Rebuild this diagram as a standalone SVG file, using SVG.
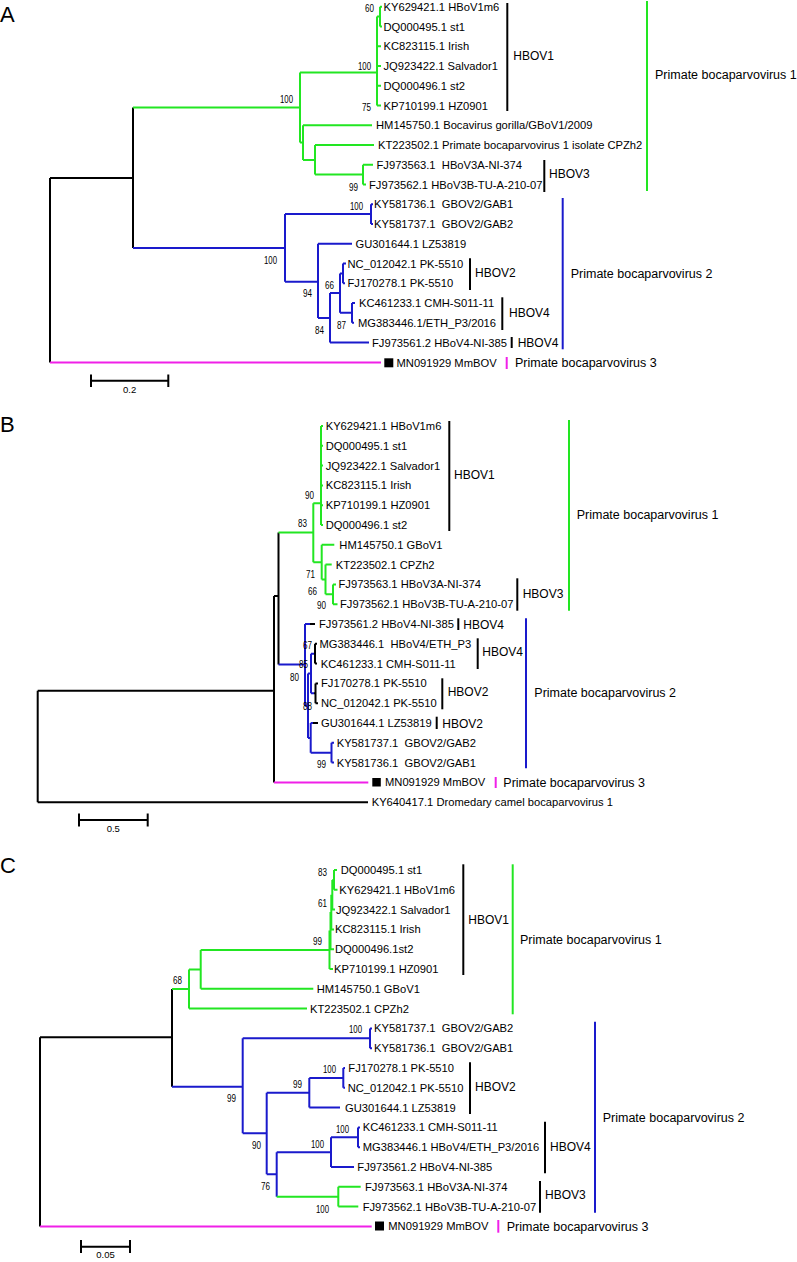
<svg xmlns="http://www.w3.org/2000/svg" width="797" height="1262" viewBox="0 0 797 1262">
<style>
text{font-family:"Liberation Sans",Arial,sans-serif;fill:#000}
.t{font-size:11.2px}
.bs{font-size:10px}
.cl{font-size:12px}
.gp{font-size:12.5px}
.sc{font-size:9.5px}
.pl{font-size:22px}
path{fill:none;stroke-width:2}
.k{stroke:#000}
.g{stroke:#22e622}
.b{stroke:#1a1acc}
.m{stroke:#f020e8}
</style>
<rect width="797" height="1262" fill="#fff"/>
<g id="panel-letters">
<text class="pl" x="0" y="22">A</text>
<text class="pl" x="0" y="432">B</text>
<text class="pl" x="0" y="873">C</text>
</g>
<g id="connectors">
<!-- Panel A -->
<path class="k" d="M50,178V362.5M50,178H133M133,107.5V248"/>
<path class="g" d="M133,107.5H300M300,72.4V142.6M300,72.4H377M377,16.6V105.5M377,16.6H380M380,6.7V26.5M380,6.7H382M380,26.5H382M377,46.2H381M377,66H381M377,85.7H381M377,105.5H381M300,142.6H303M303,125.2V160M303,125.2H372M303,160H315M315,145V174.6M315,145H374M315,174.6H363M363,164.7V184.5M363,164.7H373M363,184.5H366"/>
<path class="b" d="M133,248H285M285,214.1V281.7M285,214.1H371M371,204.2V224M371,204.2H373M371,224H373M285,281.7H318M318,243.7V318M318,243.7H352M318,318H330M330,293.1V342.5M330,342.5H369M330,293.1H340M340,273.4V312.8M340,273.4H343M343,263.5V283.2M343,263.5H346M343,283.2H345M340,312.8H352M352,303V322.7M352,303H355M352,322.7H354"/>
<path class="m" d="M50,362.5H381"/>
<!-- Panel B -->
<path class="k" d="M37.7,690.7V802.2M37.7,690.7H274M37.7,802.2H368M274,596V782.4M274,596H278.5M278.5,532.5V664.6"/>
<path class="g" d="M278.5,532.5H313.3M313.3,503.3V562.2M313.3,503.3H321M321,426V525M321,426H323M321,445.8H323M321,465.6H323M321,485.4H323M321,505.2H323M321,525H323M313.3,562.2H321.7M321.7,544.8V579.5M321.7,544.8H334.3M321.7,579.5H325.5M325.5,564.6V594.3M325.5,564.6H331.7M325.5,594.3H333M333,584.4V604.2M333,584.4H336M333,604.2H337.5"/>
<path class="b" d="M278.5,664.6H305M305,624V705.7M305,624H310M305,705.7H308M308,673.5V737.9M308,673.5H311M311,653.7V693.3M311,653.7H314M311,693.3H314M308,737.9H310.7M310.7,723V752.7M310.7,723H313M310.7,752.7H331.5M331.5,742.8V762.6M331.5,742.8H334M331.5,762.6H334"/>
<path class="k" d="M310,624H315M315,643.8V663.6M314,653.7H315M315,643.8H317M315,663.6H317M315.5,683.4V703.2M314,693.3H315.5M315.5,683.4H318M315.5,703.2H318M313,723H318"/>
<path class="m" d="M274,782.4H368.3"/>
<!-- Panel C -->
<path class="k" d="M40,1037.3V1226.4M40,1037.3H172M172,989V1086.7"/>
<path class="g" d="M172,989H189M189,969.5V1008.6M189,1008.6H307M189,969.5H200.7M200.7,950V988.8M200.7,988.8H313.3M200.7,950H329.5M329.5,930.6V969M329.5,969H333M329.5,930.6H330.5M330.5,912.1V949.2M330.5,949.2H334M330.5,912.1H331.3M331.3,894.8V929.4M331.3,929.4H334M331.3,894.8H332.3M332.3,879.9V909.6M332.3,909.6H335M332.3,879.9H334M334,870V889.8M334,870H337M334,889.8H337.5"/>
<path class="b" d="M172,1086.7H242.7M242.7,1038.3V1133.3M242.7,1038.3H370M370,1028.4V1048.2M370,1028.4H372M370,1048.2H372M242.7,1133.3H266.7M266.7,1092.7V1174.3M266.7,1092.7H309.3M309.3,1077.9V1107.6M309.3,1077.9H343.3M343.3,1068V1087.8M343.3,1068H345M343.3,1087.8H345M309.3,1107.6H340M266.7,1174.3H276.7M276.7,1152.3V1196.7M276.7,1152.3H331M331,1137.3V1167M331,1137.3H358M358,1127.4V1147.2M358,1127.4H360M358,1147.2H360M331,1167H354"/>
<path class="g" d="M276.7,1196.7H338.3M338.3,1186.8V1206.6M338.3,1186.8H360.7M338.3,1206.6H358.3"/>
<path class="m" d="M40,1226.4H371.7"/>
</g>
<g id="bootstrap">
<text class="bs" x="280" y="103" textLength="13" lengthAdjust="spacingAndGlyphs">100</text>
<text class="bs" x="358" y="70" textLength="13" lengthAdjust="spacingAndGlyphs">100</text>
<text class="bs" x="365" y="11.5" textLength="9" lengthAdjust="spacingAndGlyphs">60</text>
<text class="bs" x="362" y="111" textLength="9" lengthAdjust="spacingAndGlyphs">75</text>
<text class="bs" x="349" y="191" textLength="9" lengthAdjust="spacingAndGlyphs">99</text>
<text class="bs" x="350" y="210" textLength="13" lengthAdjust="spacingAndGlyphs">100</text>
<text class="bs" x="264" y="264" textLength="13" lengthAdjust="spacingAndGlyphs">100</text>
<text class="bs" x="303" y="297" textLength="9" lengthAdjust="spacingAndGlyphs">94</text>
<text class="bs" x="325" y="289" textLength="9" lengthAdjust="spacingAndGlyphs">66</text>
<text class="bs" x="337" y="329" textLength="9" lengthAdjust="spacingAndGlyphs">87</text>
<text class="bs" x="315" y="334" textLength="9" lengthAdjust="spacingAndGlyphs">84</text>
<text class="bs" x="305" y="499" textLength="9" lengthAdjust="spacingAndGlyphs">90</text>
<text class="bs" x="298" y="527" textLength="9" lengthAdjust="spacingAndGlyphs">83</text>
<text class="bs" x="306" y="578" textLength="9" lengthAdjust="spacingAndGlyphs">71</text>
<text class="bs" x="308" y="595" textLength="9" lengthAdjust="spacingAndGlyphs">66</text>
<text class="bs" x="317" y="609" textLength="9" lengthAdjust="spacingAndGlyphs">90</text>
<text class="bs" x="303" y="649" textLength="9" lengthAdjust="spacingAndGlyphs">67</text>
<text class="bs" x="299" y="668" textLength="9" lengthAdjust="spacingAndGlyphs">85</text>
<text class="bs" x="290" y="681" textLength="9" lengthAdjust="spacingAndGlyphs">80</text>
<text class="bs" x="303" y="710" textLength="9" lengthAdjust="spacingAndGlyphs">88</text>
<text class="bs" x="317" y="768" textLength="9" lengthAdjust="spacingAndGlyphs">99</text>
<text class="bs" x="318" y="876" textLength="9" lengthAdjust="spacingAndGlyphs">83</text>
<text class="bs" x="318" y="907" textLength="9" lengthAdjust="spacingAndGlyphs">61</text>
<text class="bs" x="313" y="945" textLength="9" lengthAdjust="spacingAndGlyphs">99</text>
<text class="bs" x="173" y="984" textLength="9" lengthAdjust="spacingAndGlyphs">68</text>
<text class="bs" x="349" y="1033" textLength="13" lengthAdjust="spacingAndGlyphs">100</text>
<text class="bs" x="227" y="1101.5" textLength="9" lengthAdjust="spacingAndGlyphs">99</text>
<text class="bs" x="293" y="1088" textLength="9" lengthAdjust="spacingAndGlyphs">99</text>
<text class="bs" x="323" y="1072.5" textLength="13" lengthAdjust="spacingAndGlyphs">100</text>
<text class="bs" x="252" y="1149" textLength="9" lengthAdjust="spacingAndGlyphs">90</text>
<text class="bs" x="311" y="1147.5" textLength="13" lengthAdjust="spacingAndGlyphs">100</text>
<text class="bs" x="336" y="1133" textLength="13" lengthAdjust="spacingAndGlyphs">100</text>
<text class="bs" x="261" y="1190" textLength="9" lengthAdjust="spacingAndGlyphs">76</text>
<text class="bs" x="316" y="1212.5" textLength="13" lengthAdjust="spacingAndGlyphs">100</text>
</g>
<g id="taxa-A">
<g id="A-KY629421"><text class="t" x="383.5" y="10.7">KY629421.1 HBoV1m6</text></g>
<g id="A-DQ000495"><text class="t" x="383.5" y="30.5">DQ000495.1 st1</text></g>
<g id="A-KC823115"><text class="t" x="383.5" y="50.2">KC823115.1 Irish</text></g>
<g id="A-JQ923422"><text class="t" x="383.5" y="70">JQ923422.1 Salvador1</text></g>
<g id="A-DQ000496"><text class="t" x="383.5" y="89.7">DQ000496.1 st2</text></g>
<g id="A-KP710199"><text class="t" x="383.5" y="109.5">KP710199.1 HZ0901</text></g>
<g id="A-HM145750"><text class="t" x="376" y="129.2">HM145750.1 Bocavirus gorilla/GBoV1/2009</text></g>
<g id="A-KT223502"><text class="t" x="378" y="149">KT223502.1 Primate bocaparvovirus 1 isolate CPZh2</text></g>
<g id="A-FJ973563"><text class="t" x="376.5" y="168.7">FJ973563.1&#160; HBoV3A-NI-374</text></g>
<g id="A-FJ973562"><text class="t" x="369" y="188.5">FJ973562.1 HBoV3B-TU-A-210-07</text></g>
<g id="A-KY581736"><text class="t" x="374" y="208.2">KY581736.1&#160; GBOV2/GAB1</text></g>
<g id="A-KY581737"><text class="t" x="374" y="228">KY581737.1&#160; GBOV2/GAB2</text></g>
<g id="A-GU301644"><text class="t" x="355.5" y="247.7">GU301644.1 LZ53819</text></g>
<g id="A-NC012042"><text class="t" x="347.5" y="267.5">NC_012042.1 PK-5510</text></g>
<g id="A-FJ170278"><text class="t" x="347.5" y="287.2">FJ170278.1 PK-5510</text></g>
<g id="A-KC461233"><text class="t" x="359" y="307">KC461233.1 CMH-S011-11</text></g>
<g id="A-MG383446"><text class="t" x="358" y="326.7">MG383446.1/ETH_P3/2016</text></g>
<g id="A-FJ973561"><text class="t" x="372" y="346.5">FJ973561.2 HBoV4-NI-385</text></g>
<g id="A-MN091929"><rect x="384.3" y="358.3" width="9" height="9" fill="#000"/><text class="t" x="396.5" y="366.5">MN091929 MmBOV</text></g>
</g>
<g id="clades-A">
<g id="A-HBOV1"><path class="k" d="M507.3,3V111"/><text class="cl" x="513.3" y="60">HBOV1</text></g>
<g id="A-HBOV3"><path class="k" d="M544.3,160V192"/><text class="cl" x="549" y="178">HBOV3</text></g>
<g id="A-HBOV2"><path class="k" d="M470,258.3V290"/><text class="cl" x="475" y="277">HBOV2</text></g>
<g id="A-HBOV4a"><path class="k" d="M502.3,297.3V330"/><text class="cl" x="509" y="317">HBOV4</text></g>
<g id="A-HBOV4b"><path class="k" d="M511.7,337V348"/><text class="cl" x="517.7" y="347">HBOV4</text></g>
<g id="A-PBV1"><path class="g" d="M647,1V191"/><text class="gp" x="655" y="79">Primate bocaparvovirus 1</text></g>
<g id="A-PBV2"><path class="b" d="M562.7,198V349.3"/><text class="gp" x="570.7" y="277.5">Primate bocaparvovirus 2</text></g>
<g id="A-PBV3"><path class="m" d="M506.7,357V369"/><text class="gp" x="515" y="367">Primate bocaparvovirus 3</text></g>
<g id="A-scale"><path class="k" d="M91,380.7H168.3M91,374.5V387M168.3,374.5V387"/><text class="sc" x="129.7" y="393" text-anchor="middle">0.2</text></g>
</g>
<g id="taxa-B">
<g id="B-KY629421"><text class="t" x="325.7" y="430">KY629421.1 HBoV1m6</text></g>
<g id="B-DQ000495"><text class="t" x="325.7" y="449.8">DQ000495.1 st1</text></g>
<g id="B-JQ923422"><text class="t" x="325.7" y="469.6">JQ923422.1 Salvador1</text></g>
<g id="B-KC823115"><text class="t" x="325.7" y="489.4">KC823115.1 Irish</text></g>
<g id="B-KP710199"><text class="t" x="325.7" y="509.2">KP710199.1 HZ0901</text></g>
<g id="B-DQ000496"><text class="t" x="325.7" y="529">DQ000496.1 st2</text></g>
<g id="B-HM145750"><text class="t" x="339.3" y="548.8">HM145750.1 GBoV1</text></g>
<g id="B-KT223502"><text class="t" x="335.7" y="568.6">KT223502.1 CPZh2</text></g>
<g id="B-FJ973563"><text class="t" x="338.5" y="588.4">FJ973563.1 HBoV3A-NI-374</text></g>
<g id="B-FJ973562"><text class="t" x="340" y="608.2">FJ973562.1 HBoV3B-TU-A-210-07</text></g>
<g id="B-FJ973561"><text class="t" x="319" y="628">FJ973561.2 HBoV4-NI-385</text></g>
<g id="B-MG383446"><text class="t" x="319.5" y="647.8">MG383446.1&#160; HBoV4/ETH_P3</text></g>
<g id="B-KC461233"><text class="t" x="320.7" y="667.6">KC461233.1 CMH-S011-11</text></g>
<g id="B-FJ170278"><text class="t" x="321" y="687.4">FJ170278.1 PK-5510</text></g>
<g id="B-NC012042"><text class="t" x="321" y="707.2">NC_012042.1 PK-5510</text></g>
<g id="B-GU301644"><text class="t" x="321" y="727">GU301644.1 LZ53819</text></g>
<g id="B-KY581737"><text class="t" x="336.7" y="746.8">KY581737.1&#160; GBOV2/GAB2</text></g>
<g id="B-KY581736"><text class="t" x="336.7" y="766.6">KY581736.1&#160; GBOV2/GAB1</text></g>
<g id="B-MN091929"><rect x="372.3" y="778" width="8.5" height="8.5" fill="#000"/><text class="t" x="385" y="786.4">MN091929 MmBOV</text></g>
<g id="B-KY640417"><text class="t" x="371.7" y="806.2">KY640417.1 Dromedary camel bocaparvovirus 1</text></g>
</g>
<g id="clades-B">
<g id="B-HBOV1"><path class="k" d="M449.3,421V531"/><text class="cl" x="454" y="479">HBOV1</text></g>
<g id="B-HBOV3"><path class="k" d="M517.3,578.3V610.7"/><text class="cl" x="522.7" y="598">HBOV3</text></g>
<g id="B-HBOV4a"><path class="k" d="M458.3,618.3V630"/><text class="cl" x="463.3" y="628.5">HBOV4</text></g>
<g id="B-HBOV4b"><path class="k" d="M477.7,638.3V669"/><text class="cl" x="482.3" y="656">HBOV4</text></g>
<g id="B-HBOV2a"><path class="k" d="M442.3,678.3V709.3"/><text class="cl" x="447.7" y="696">HBOV2</text></g>
<g id="B-HBOV2b"><path class="k" d="M436.7,716.7V729"/><text class="cl" x="442.3" y="727.5">HBOV2</text></g>
<g id="B-PBV1"><path class="g" d="M569,420V610.7"/><text class="gp" x="576.7" y="519">Primate bocaparvovirus 1</text></g>
<g id="B-PBV2"><path class="b" d="M526,618.3V768.3"/><text class="gp" x="534.3" y="697">Primate bocaparvovirus 2</text></g>
<g id="B-PBV3"><path class="m" d="M495.7,777V788"/><text class="gp" x="503.3" y="787">Primate bocaparvovirus 3</text></g>
<g id="B-scale"><path class="k" d="M79,820H147.7M79,813.5V826.5M147.7,813.5V826.5"/><text class="sc" x="113.3" y="832" text-anchor="middle">0.5</text></g>
</g>
<g id="taxa-C">
<g id="C-DQ000495"><text class="t" x="340.7" y="874">DQ000495.1 st1</text></g>
<g id="C-KY629421"><text class="t" x="339.3" y="893.8">KY629421.1 HBoV1m6</text></g>
<g id="C-JQ923422"><text class="t" x="336" y="913.6">JQ923422.1 Salvador1</text></g>
<g id="C-KC823115"><text class="t" x="335" y="933.4">KC823115.1 Irish</text></g>
<g id="C-DQ000496"><text class="t" x="335" y="953.2">DQ000496.1st2</text></g>
<g id="C-KP710199"><text class="t" x="334" y="973">KP710199.1 HZ0901</text></g>
<g id="C-HM145750"><text class="t" x="316.7" y="992.8">HM145750.1 GBoV1</text></g>
<g id="C-KT223502"><text class="t" x="310" y="1012.6">KT223502.1 CPZh2</text></g>
<g id="C-KY581737"><text class="t" x="374" y="1032.4">KY581737.1&#160; GBOV2/GAB2</text></g>
<g id="C-KY581736"><text class="t" x="374" y="1052.2">KY581736.1&#160; GBOV2/GAB1</text></g>
<g id="C-FJ170278"><text class="t" x="348.3" y="1072">FJ170278.1 PK-5510</text></g>
<g id="C-NC012042"><text class="t" x="347.7" y="1091.8">NC_012042.1 PK-5510</text></g>
<g id="C-GU301644"><text class="t" x="345" y="1111.6">GU301644.1 LZ53819</text></g>
<g id="C-KC461233"><text class="t" x="362.7" y="1131.4">KC461233.1 CMH-S011-11</text></g>
<g id="C-MG383446"><text class="t" x="362.7" y="1151.2">MG383446.1 HBoV4/ETH_P3/2016</text></g>
<g id="C-FJ973561"><text class="t" x="357.3" y="1171">FJ973561.2 HBoV4-NI-385</text></g>
<g id="C-FJ973563"><text class="t" x="365" y="1190.8">FJ973563.1 HBoV3A-NI-374</text></g>
<g id="C-FJ973562"><text class="t" x="362.7" y="1210.6">FJ973562.1 HBoV3B-TU-A-210-07</text></g>
<g id="C-MN091929"><rect x="375" y="1221.5" width="9" height="9" fill="#000"/><text class="t" x="388.3" y="1230.4">MN091929 MmBOV</text></g>
</g>
<g id="clades-C">
<g id="C-HBOV1"><path class="k" d="M463.3,864.3V975"/><text class="cl" x="468.3" y="924">HBOV1</text></g>
<g id="C-HBOV2"><path class="k" d="M470,1062.3V1114"/><text class="cl" x="475" y="1091">HBOV2</text></g>
<g id="C-HBOV4"><path class="k" d="M545,1121.7V1173.3"/><text class="cl" x="550" y="1150.5">HBOV4</text></g>
<g id="C-HBOV3"><path class="k" d="M540,1181V1212.7"/><text class="cl" x="545" y="1199">HBOV3</text></g>
<g id="C-PBV1"><path class="g" d="M512.7,864.3V1014.3"/><text class="gp" x="520" y="944">Primate bocaparvovirus 1</text></g>
<g id="C-PBV2"><path class="b" d="M595,1021.7V1212.7"/><text class="gp" x="602.7" y="1122">Primate bocaparvovirus 2</text></g>
<g id="C-PBV3"><path class="m" d="M498.3,1220V1232.7"/><text class="gp" x="506.7" y="1231">Primate bocaparvovirus 3</text></g>
<g id="C-scale"><path class="k" d="M81,1246.7H130M81,1240V1253M130,1240V1253"/><text class="sc" x="105.5" y="1258" text-anchor="middle">0.05</text></g>
</g>
</svg>
